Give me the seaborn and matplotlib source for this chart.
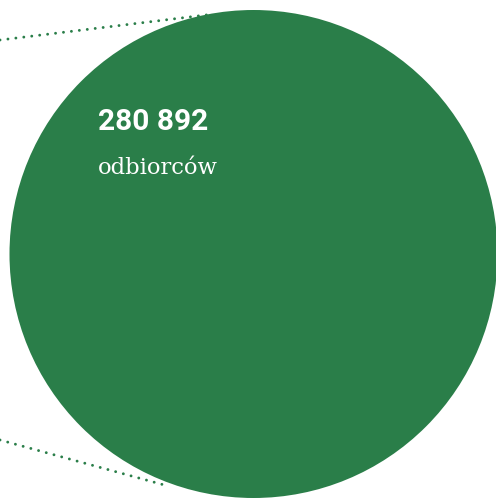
import matplotlib
matplotlib.use("Agg")
import matplotlib.pyplot as plt
import numpy as np
import pandas as pd
import seaborn as sns
from matplotlib.patches import Circle

# data
value = 280892
unit_label = "odbiorców"
green = "#2a7e49"

# geometry of the picture (pixel coordinates)
circle_center = (253.5, 254.0)
circle_radius = 244.0
top_line_x = [0, 210]
top_line_y = [40, 14.5]
bottom_line_x = [0, 168]
bottom_line_y = [440, 486]

sns.set_style("white")

fig = plt.figure(figsize=(4.96, 4.99), dpi=100)
ax = fig.add_axes([0, 0, 1, 1])

dots = dict(color=green, lw=2.1, linestyle=(0, (0.01, 2.73)),
            dash_capstyle="round", ax=ax, legend=False, zorder=1)
sns.lineplot(x=top_line_x, y=top_line_y, **dots)
sns.lineplot(x=bottom_line_x, y=bottom_line_y, **dots)

ax.add_patch(Circle(circle_center, circle_radius, facecolor=green,
                    edgecolor="none", zorder=2))

# format number with space as thousands separator
num_txt = f"{value:,}".replace(",", " ")
ax.text(98, 130, num_txt, color="white", fontsize=21.5, fontweight="bold",
        family="Roboto", va="baseline", ha="left", zorder=3)
ax.text(98, 174, unit_label, color="white", fontsize=16.3,
        family="DejaVu Serif", va="baseline", ha="left", zorder=3)

ax.set_xlim(0, 496)
ax.set_ylim(499, 0)
ax.axis("off")

fig.savefig("out.png", dpi=100, facecolor="white")
